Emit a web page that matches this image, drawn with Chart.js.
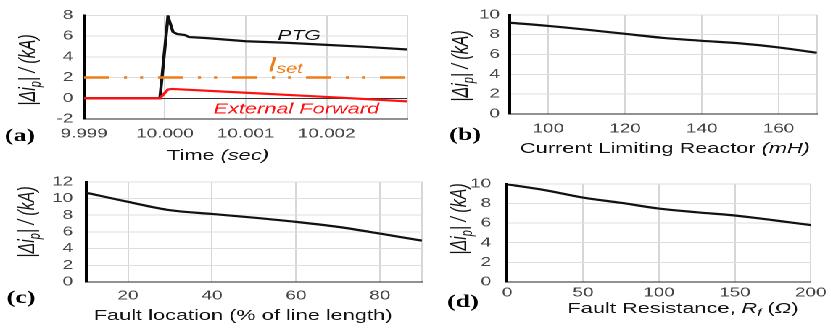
<!DOCTYPE html>
<html>
<head>
<meta charset="utf-8">
<script src="https://cdn.jsdelivr.net/npm/chart.js@4.4.0/dist/chart.umd.min.js"></script>
<style>
html, body { margin: 0; padding: 0; background: #fff; overflow: hidden; }
/* 原图整体被横向拉伸，这里用同样的比例 */
#fig { position: absolute; left: 0; top: 0; width: 573px; height: 328px; transform: scaleX(1.45); transform-origin: 0 0; }
#fig canvas { position: absolute; }
</style>
</head>
<body>
<div id="fig">
  <canvas id="chartA" width="297" height="165" style="left:0;top:0"></canvas>
  <canvas id="chartB" width="276" height="165" style="left:297px;top:0"></canvas>
  <canvas id="chartC" width="297" height="163" style="left:0;top:165px"></canvas>
  <canvas id="chartD" width="276" height="163" style="left:297px;top:165px"></canvas>
</div>
<script>
// (a) 时间响应
const timePtg = [9.999, 9.999938, 10.0000373, 10.0000994, 10.000149, 10.000248, 10.000298, 10.000522, 10.001, 10.0015, 10.002, 10.0025, 10.003];
const ptgValues = [0, 0, 7.9, 6.4, 6.2, 6.1, 5.9, 5.8, 5.5, 5.35, 5.15, 4.95, 4.7];
const timeExt = [9.999, 9.999938, 10.0000373, 10.00009, 10.001, 10.002, 10.003];
const extValues = [0, 0, 0.85, 0.9, 0.53, 0.13, -0.3];
const isetValue = 2;
const xTicksA = [9.999, 10.000, 10.001, 10.002, 10.003];
const xLabelsA = ['9.999', '10.000', '10.001', '10.002', ''];

// (b) 限流电抗器
const reactorMh = [90, 100, 110, 120, 130, 140, 150, 160, 170];
const reactorKa = [9.2, 8.88, 8.5, 8.08, 7.67, 7.38, 7.12, 6.71, 6.17];
const xTicksB = [100, 120, 140, 160, 170];
const xLabelsB = ['100', '120', '140', '160', ''];

// (c) 故障位置
const locationPct = [10, 20, 30, 40, 50, 60, 70, 80, 90];
const locationKa = [10.7, 9.6, 8.6, 8.15, 7.7, 7.2, 6.6, 5.8, 4.95];
const xTicksC = [20, 40, 60, 80, 90];
const xLabelsC = ['20', '40', '60', '80', ''];

// (d) 故障电阻
const resistOhm = [0, 25, 50, 75, 100, 125, 150, 175, 200];
const resistKa = [9.95, 9.35, 8.6, 8.06, 7.48, 7.1, 6.77, 6.3, 5.8];
const xTicksD = [0, 50, 100, 150, 200];
const xLabelsD = ['0', '50', '100', '150', '200'];

const SANS = '"Liberation Sans", Arial, sans-serif';
const SERIF = '"Liberation Serif", "Times New Roman", serif';
Chart.defaults.font.family = SANS;

// 画带斜体/下标的文字
function drawRich(ctx, parts, x, y, align, rotate) {
    ctx.save();
    ctx.translate(x, y);
    if (rotate) ctx.rotate(-Math.PI / 2);
    ctx.textBaseline = 'alphabetic';
    ctx.textAlign = 'left';
    let w = 0;
    parts.forEach(p => { ctx.font = p.f; w += ctx.measureText(p.t).width; });
    let cx = align === 'center' ? -w / 2 : 0;
    parts.forEach(p => {
        ctx.font = p.f;
        ctx.fillStyle = p.c || '#111';
        ctx.fillText(p.t, cx, p.dy || 0);
        cx += ctx.measureText(p.t).width;
    });
    ctx.restore();
}

function textPlugin(items) {
    return {
        id: 'richText',
        afterDraw(chart) {
            items.forEach(it => {
                const x = it.xv !== undefined ? chart.scales.x.getPixelForValue(it.xv) : it.x;
                const y = it.yv !== undefined ? chart.scales.y.getPixelForValue(it.yv) : it.y;
                drawRich(chart.ctx, it.parts, x, y, it.align, it.rotate);
            });
        }
    };
}

const yTitleParts = [
    { t: '|Δi', f: `italic 16px ${SANS}` },
    { t: 'p', f: `italic 11px ${SANS}`, dy: 4 },
    { t: '| / (kA)', f: `italic 16px ${SANS}` }
];
const N15 = `15px ${SANS}`;
const I15 = `italic 15px ${SANS}`;
const LETTER = `bold 18px ${SERIF}`;

function makeOptions(p) {
    return {
        responsive: false,
        animation: false,
        devicePixelRatio: 2,
        layout: { padding: { left: 0, right: p.padRight, top: p.padTop, bottom: 0 } },
        plugins: { legend: { display: false }, tooltip: { enabled: false } },
        elements: { point: { radius: 0 } },
        scales: {
            x: {
                type: 'linear',
                min: p.xMin,
                max: p.xMax,
                afterBuildTicks: s => { s.ticks = p.xTicks.map(v => ({ value: v })); },
                afterFit: s => { s.height = p.xHeight; },
                ticks: {
                    callback: (v, i) => p.xLabels[i],
                    font: { size: 13 },
                    color: '#444',
                    padding: p.xPad,
                    maxRotation: 0,
                    autoSkip: false
                },
                grid: { color: '#d6d6d6', lineWidth: 1, drawTicks: false },
                border: { color: '#222', width: 1 }
            },
            y: {
                min: p.yMin,
                max: p.yMax,
                afterFit: s => { s.width = p.yWidth; },
                ticks: { stepSize: 2, autoSkip: false, font: { size: 13 }, color: '#444', padding: p.yPad },
                grid: {
                    color: c => (p.zeroLine && c.tick && c.tick.value === 0) ? '#333' : '#dedede',
                    lineWidth: 1,
                    drawTicks: false
                },
                border: { color: '#000', width: 2 }
            }
        }
    };
}

function blackLine(xs, ys) {
    return {
        data: xs.map((x, i) => ({ x: x, y: ys[i] })),
        borderColor: '#111',
        borderWidth: 2.2,
        cubicInterpolationMode: 'monotone',
        fill: false
    };
}

// (a)
new Chart(document.getElementById('chartA'), {
    type: 'line',
    data: {
        datasets: [
            {
                data: timeExt.map((x, i) => ({ x: x, y: extValues[i] })),
                borderColor: '#ff1010',
                borderWidth: 2.2,
                fill: false
            },
            {
                data: [{ x: xTicksA[0], y: isetValue }, { x: xTicksA[xTicksA.length - 1], y: isetValue }],
                borderColor: '#ef7d1a',
                borderWidth: 2.5,
                borderDash: [17.2, 10.3, 2.1, 9, 2.1, 10.3],
                borderCapStyle: 'butt',
                fill: false
            },
            {
                data: timePtg.map((x, i) => ({ x: x, y: ptgValues[i] })),
                borderColor: '#111',
                borderWidth: 2.2,
                fill: false
            }
        ]
    },
    options: makeOptions({
        padRight: 16, padTop: 11, xHeight: 46, yWidth: 58,
        xMin: 9.999, xMax: 10.003, xTicks: xTicksA, xLabels: xLabelsA, xPad: 7,
        yMin: -2, yMax: 8, yPad: 7.5, zeroLine: true
    }),
    plugins: [textPlugin([
        { xv: 10.00166, yv: 5.64, align: 'center', parts: [{ t: 'PTG', f: `italic 14.5px ${SANS}` }] },
        { xv: 10.001275, yv: 2.6, parts: [
            { t: 'I', f: `italic 21px ${SANS}`, c: '#ef7d1a' },
            { t: 'set', f: `italic 13.5px ${SANS}`, c: '#ef7d1a', dy: 1.5 }
        ] },
        { xv: 10.001625, yv: -1.47, align: 'center', parts: [{ t: 'External Forward', f: I15, c: '#ff1010' }] },
        { x: 24, y: 70, align: 'center', rotate: true, parts: yTitleParts },
        { x: 150.3, y: 160, align: 'center', parts: [{ t: 'Time ', f: N15 }, { t: '(sec)', f: I15 }] },
        { x: 13.8, y: 141, align: 'center', parts: [{ t: '(a)', f: LETTER, c: '#000' }] }
    ])]
});

// (b)
new Chart(document.getElementById('chartB'), {
    type: 'line',
    data: { datasets: [blackLine(reactorMh, reactorKa)] },
    options: makeOptions({
        padRight: 9.6, padTop: 10, xHeight: 51, yWidth: 54.7,
        xMin: 90, xMax: 170, xTicks: xTicksB, xLabels: xLabelsB, xPad: 7,
        yMin: 0, yMax: 10, yPad: 7
    }),
    plugins: [textPlugin([
        { x: 25.3, y: 66, align: 'center', rotate: true, parts: yTitleParts },
        { x: 161.6, y: 153, align: 'center', parts: [{ t: 'Current Limiting Reactor ', f: N15 }, { t: '(mH)', f: I15 }] },
        { x: 23.7, y: 140, align: 'center', parts: [{ t: '(b)', f: LETTER, c: '#000' }] }
    ])]
});

// (c)
new Chart(document.getElementById('chartC'), {
    type: 'line',
    data: { datasets: [blackLine(locationPct, locationKa)] },
    options: makeOptions({
        padRight: 6, padTop: 13, xHeight: 46, yWidth: 59.3,
        xMin: 10, xMax: 90, xTicks: xTicksC, xLabels: xLabelsC, xPad: 6,
        yMin: 0, yMax: 12, yPad: 9
    }),
    plugins: [textPlugin([
        { x: 23.6, y: 57, align: 'center', rotate: true, parts: yTitleParts },
        { x: 167.6, y: 155, align: 'center', parts: [{ t: 'Fault location (% of line length)', f: N15 }] },
        { x: 14.5, y: 138, align: 'center', parts: [{ t: '(c)', f: LETTER, c: '#000' }] }
    ])]
});

// (d)
new Chart(document.getElementById('chartD'), {
    type: 'line',
    data: { datasets: [blackLine(resistOhm, resistKa)] },
    options: makeOptions({
        padRight: 13, padTop: 13, xHeight: 46, yWidth: 52.7,
        xMin: 0, xMax: 200, xTicks: xTicksD, xLabels: xLabelsD, xPad: 3,
        yMin: 0, yMax: 10, yPad: 11
    }),
    plugins: [textPlugin([
        { x: 24.6, y: 54, align: 'center', rotate: true, parts: yTitleParts },
        { x: 174, y: 148, align: 'center', parts: [
            { t: 'Fault Resistance, ', f: N15 },
            { t: 'R', f: I15 },
            { t: 'f', f: `italic 10px ${SANS}`, dy: 3 },
            { t: ' (', f: N15 },
            { t: 'Ω', f: I15 },
            { t: ')', f: N15 }
        ] },
        { x: 22.3, y: 142, align: 'center', parts: [{ t: '(d)', f: LETTER, c: '#000' }] }
    ])]
});
</script>
</body>
</html>
